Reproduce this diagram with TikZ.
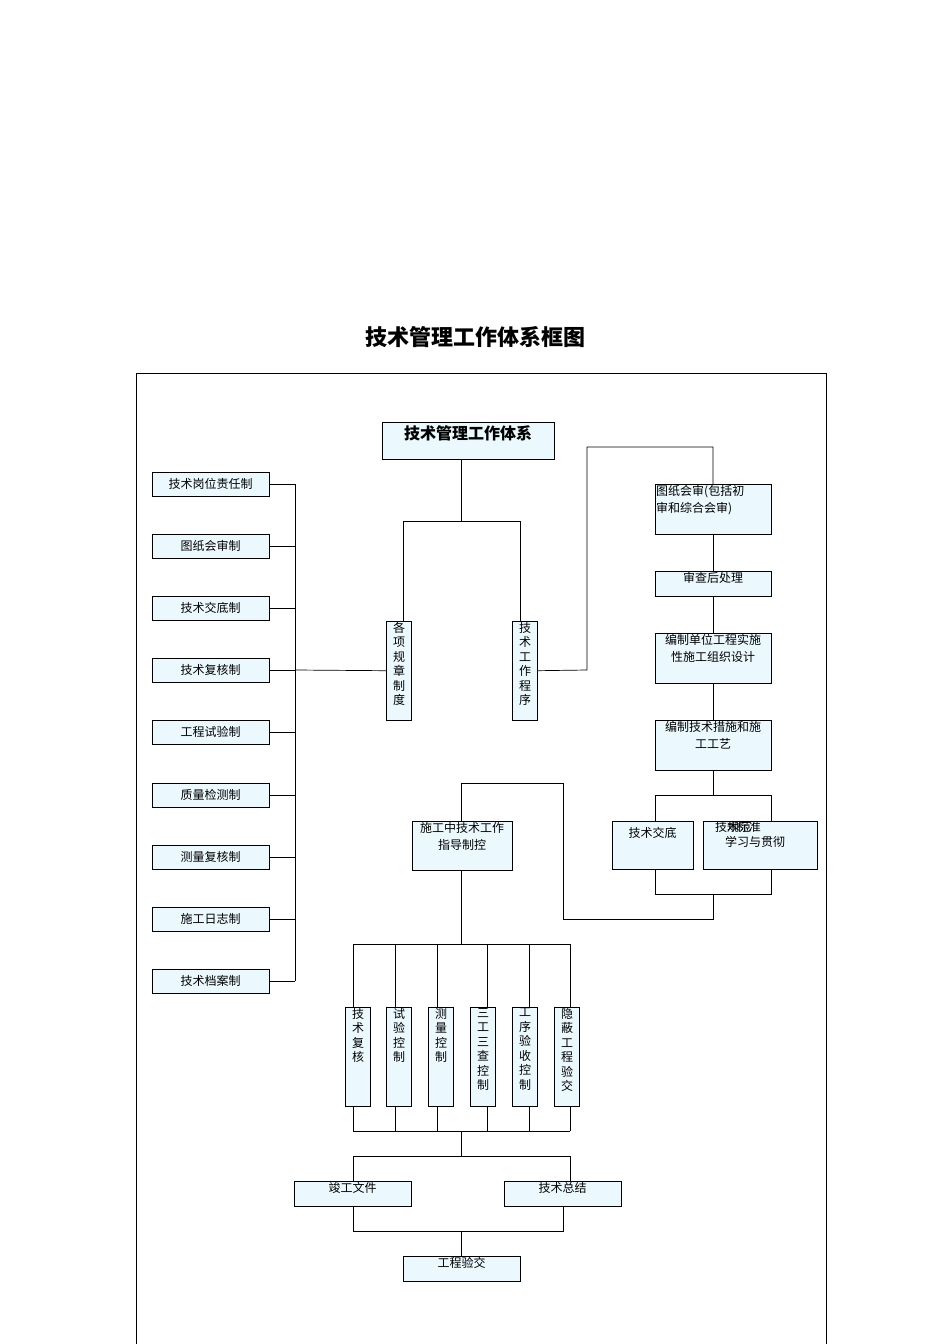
\documentclass[tikz,border=0pt]{standalone}
\usepackage{fontspec}
\setmainfont{Noto Sans CJK SC}
\begin{document}
\begin{tikzpicture}[x=1pt,y=-1pt,
  bx/.style={draw,fill=cyan!8,inner sep=0,font=\fontsize{12}{14}\selectfont},
  tx/.style={inner sep=1pt,font=\fontsize{12}{14}\selectfont},
  ln/.style={draw,line width=0.7pt}]
\useasboundingbox (0,0) rectangle (950,1344);
\node[font=\fontsize{22}{24}\selectfont\bfseries] (title) at (475,337) {技术管理工作体系框图};
\draw[line width=0.6pt] (826,1344) -- (826,373) -- (136,373) -- (136,1344);
% top
\node[bx,minimum width=172,minimum height=37,anchor=north west] (top) at (382,422) {};
\node[tx,anchor=north,font=\fontsize{16}{18}\selectfont\bfseries] at ([yshift=-2]top.north) {技术管理工作体系};
% left column
\foreach \y/\t [count=\i] in {484/技术岗位责任制,546/图纸会审制,608/技术交底制,670/技术复核制,732/工程试验制,795/质量检测制,857/测量复核制,919/施工日志制,981/技术档案制}{
  \node[bx,minimum width=117,minimum height=24] (L\i) at (210.5,\y) {\t};
  \draw[ln] (L\i.east) -- (295,\y);
}
\draw[ln] (295,484) -- (295,981);
% vertical boxes
\newcommand{\vtxt}[1]{\parbox[t]{1.1em}{\centering\fontsize{12}{14.5}\selectfont #1}}
\node[bx,minimum width=25,minimum height=99,anchor=north west] (ge) at (386,621) {};
\node[anchor=north,inner sep=1pt] at (ge.north) {\vtxt{各\\项\\规\\章\\制\\度}};
\node[bx,minimum width=25,minimum height=99,anchor=north west] (js) at (512,621) {};
\node[anchor=north,inner sep=1pt] at (js.north) {\vtxt{技\\术\\工\\作\\程\\序}};
\draw[ln] (295,670) -- (ge.west);
\draw[ln] (461,459) -- (461,521) (403,521) -- (520,521);
\draw[ln] (403,521) -- (403,621);
\draw[ln] (520,521) -- (520,621);
% right column
\node[bx,minimum width=116,minimum height=50,anchor=north west] (r1) at (655,484) {};
\node[tx,anchor=north west,align=left,font=\fontsize{12}{17}\selectfont] at (r1.north west) {图纸会审(包括初\\审和综合会审)};
\node[bx,minimum width=116,minimum height=25,anchor=north west] (r2) at (655,571) {};
\node[tx,anchor=north] at (r2.north) {审查后处理};
\node[bx,minimum width=116,minimum height=50,anchor=north west] (r3) at (655,633) {};
\node[tx,anchor=north,align=center,font=\fontsize{12}{17}\selectfont] at (r3.north) {编制单位工程实施\\性施工组织设计};
\node[bx,minimum width=116,minimum height=50,anchor=north west] (r4) at (655,720) {};
\node[tx,anchor=north,align=center,font=\fontsize{12}{17}\selectfont] at (r4.north) {编制技术措施和施\\工工艺};
\draw[ln] (js.east) -- (587,670) -- (587,447) -- (713,447) -- (713,484);
\draw[ln] (713,534) -- (713,571) (713,596) -- (713,633) (713,683) -- (713,720);
\node[bx,minimum width=81,minimum height=48,anchor=north west] (jd) at (612,821) {};
\node[tx,anchor=north] at ([yshift=-5]jd.north) {技术交底};
\node[bx,minimum width=114,minimum height=48,anchor=north west] (gf) at (703,821) {};
\node[anchor=north west,inner sep=0pt,font=\fontsize{12}{14}\selectfont] at (715,821) {技术\hspace{-1em}规范\hspace{-1.2em}标准};
\node[anchor=north west,inner sep=0pt,font=\fontsize{12}{14}\selectfont] at (725,836) {学习与贯彻};
\draw[ln] (713,770) -- (713,795);
\draw[ln] (655,821) -- (655,795) -- (771,795) -- (771,821);
\draw[ln] (655,869) -- (655,894) -- (771,894) -- (771,869);
\draw[ln] (713,894) -- (713,919) -- (563,919) -- (563,783) -- (461,783) -- (461,821);
\node[bx,minimum width=100,minimum height=49,anchor=north west] (sg) at (412,821) {};
\node[tx,anchor=north,align=center,font=\fontsize{12}{17}\selectfont] at (sg.north) {施工中技术工作\\指导制控};
\draw[ln] (461,870) -- (461,944) (353,944) -- (570,944);
% six vertical boxes
\foreach \x/\lx/\t [count=\i] in {345/353/技\\术\\复\\核,386/395/试\\验\\控\\制,428/437/测\\量\\控\\制,470/487/三\\工\\三\\查\\控\\制,512/529/工\\序\\验\\收\\控\\制,554/570/隐\\蔽\\工\\程\\验\\交}{
  \node[bx,minimum width=25,minimum height=99,anchor=north west] (v\i) at (\x,1007) {};
  \node[anchor=north,inner sep=1pt] at (v\i.north) {\vtxt{\t}};
  \draw[ln] (\lx,944) -- (\lx,1007) (\lx,1106) -- (\lx,1131);
}
\draw[ln] (353,1131) -- (570,1131) (461,1131) -- (461,1156) (353,1156) -- (570,1156);
\node[bx,minimum width=117,minimum height=25,anchor=north west] (jg) at (294,1181) {};
\node[tx,anchor=north] at (jg.north) {竣工文件};
\node[bx,minimum width=117,minimum height=25,anchor=north west] (zj) at (504,1181) {};
\node[tx,anchor=north] at (zj.north) {技术总结};
\draw[ln] (353,1156) -- (353,1181) (570,1156) -- (570,1181);
\draw[ln] (353,1206) -- (353,1231) -- (563,1231) -- (563,1206);
\node[bx,minimum width=117,minimum height=25,anchor=north west] (ys) at (403,1256) {};
\node[tx,anchor=north] at (ys.north) {工程验交};
\draw[ln] (461,1231) -- (461,1256);
\end{tikzpicture}
\end{document}
